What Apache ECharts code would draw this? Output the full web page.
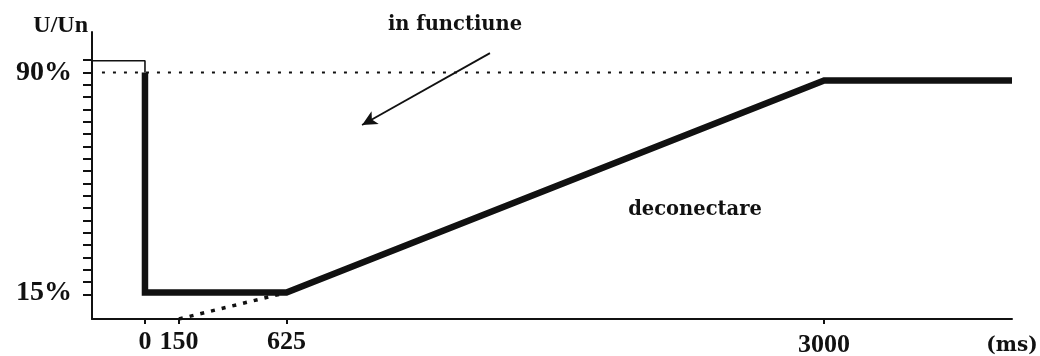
<!DOCTYPE html>
<html>
<head>
<meta charset="utf-8">
<script src="https://cdn.jsdelivr.net/npm/echarts@6/dist/echarts.min.js"></script>
<style>
html,body{margin:0;padding:0;background:#fff;}
#chart{width:1040px;height:356px;}
</style>
</head>
<body>
<div id="chart"></div>
<script>
// ---- data (ms, % of Un) ----
var xTickValues = [0, 150, 625, 3000];
var yLabelValues = [90, 15];
var yTickValues = [94.2, 90, 85.8, 81.6, 77.4, 73.2, 69, 64.8, 60.6, 56.4, 52.2, 48, 43.8, 39.6, 35.4, 31.2, 27, 22.8, 18.6, 14.4];
// thick characteristic: drop at 0 to 15%, hold to 625 ms, ramp to 3000 ms, then hold
var mainX = [0, 0, 625, 3000, 3830];
var mainY = [90, 15, 15, 87.3, 87.3];
// thin pre-fault level
var preX = [-234, 0, 0];
var preY = [94, 94, 90];
// dotted 90% reference
var refX = [-190, 3000];
var refY = [90, 90];
// dotted extension of the ramp
var extX = [150, 625];
var extY = [6, 15];

function pairs(xs, ys) { return xs.map(function (x, i) { return [x, ys[i]]; }); }

var serifFont = "'Liberation Serif', 'Times New Roman', serif";
var slabFont = "'DejaVu Serif', serif";
var ink = '#111';

var chart = echarts.init(document.getElementById('chart'), null, {renderer: 'canvas'});
chart.setOption({
  animation: false,
  backgroundColor: '#fff',
  grid: {left: 92, right: 28, top: 32, bottom: 37, containLabel: false, outerBoundsMode: 'none'},
  xAxis: {
    type: 'value', min: -234, max: 3830,
    splitLine: {show: false},
    axisLine: {show: true, onZero: false, lineStyle: {color: ink, width: 2}},
    axisTick: {show: true, customValues: xTickValues, length: 5, lineStyle: {color: ink, width: 2}},
    axisLabel: {customValues: xTickValues, margin: 10, color: ink, fontFamily: serifFont, fontWeight: 'bold', fontSize: 26,
      formatter: function (v) { return v === 3000 ? '{low|' + v + '}' : String(v); },
      rich: {low: {fontFamily: serifFont, fontWeight: 'bold', fontSize: 26, color: ink, padding: [3, 0, 0, 0]}}},
    name: '(ms)', nameLocation: 'end', nameGap: 0,
    nameTextStyle: {color: ink, fontFamily: slabFont, fontWeight: 'bold', fontSize: 20, align: 'center', verticalAlign: 'top', padding: [17, 0, 0, 0]}
  },
  yAxis: {
    type: 'value', min: 6, max: 103.8,
    splitLine: {show: false},
    axisLine: {show: true, onZero: false, lineStyle: {color: ink, width: 2}},
    axisTick: {show: true, customValues: yTickValues, length: 9, lineStyle: {color: ink, width: 2}},
    axisLabel: {customValues: yLabelValues, margin: 20, color: ink, fontFamily: serifFont, fontWeight: 'bold', fontSize: 28,
      formatter: function (v) { return v + '%'; }},
    name: 'U/Un', nameLocation: 'end', nameGap: 6,
    nameTextStyle: {color: ink, fontFamily: serifFont, fontWeight: 'bold', fontSize: 24, align: 'right', verticalAlign: 'middle', padding: [0, 4, 0, 0]}
  },
  series: [
    {
      type: 'line', data: pairs(refX, refY), showSymbol: false, silent: true,
      lineStyle: {color: ink, width: 2, type: [3, 8]}
    },
    {
      type: 'line', data: pairs(preX, preY), showSymbol: false, silent: true,
      lineStyle: {color: ink, width: 1.6},
      markLine: {
        silent: true, symbol: ['arrow', 'none'], symbolSize: [11, 15],
        label: {show: false},
        lineStyle: {color: ink, width: 1.8, type: 'solid'},
        data: [[{coord: [959, 72.1]}, {coord: [1524, 96.6]}]]
      }
    },
    {
      type: 'line', data: pairs(extX, extY), showSymbol: false, silent: true,
      lineStyle: {color: ink, width: 3.5, type: [4, 7]}
    },
    {
      type: 'line', data: pairs(mainX, mainY), showSymbol: false, silent: true,
      lineStyle: {color: ink, width: 6.5, join: 'miter', cap: 'butt'}
    }
  ],
  graphic: [
    {type: 'text', style: {text: 'in functiune', x: 0, y: 0, fill: ink, font: 'bold 19.5px ' + slabFont, align: 'center', verticalAlign: 'middle'},
     x: 455, y: 25},
    {type: 'text', style: {text: 'deconectare', x: 0, y: 0, fill: ink, font: 'bold 19.5px ' + slabFont, align: 'center', verticalAlign: 'middle'},
     x: 695, y: 210}
  ]
});
</script>
</body>
</html>
